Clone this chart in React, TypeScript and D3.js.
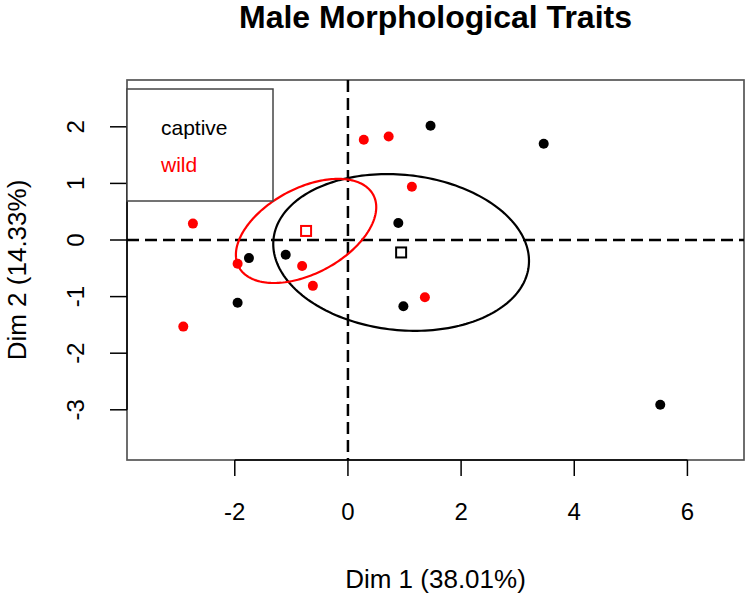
import React from "react";
import * as d3 from "d3";

// ---- data ----
const groups = ["captive", "wild"];
const groupColors = ["#000000", "#FF0000"];

const captiveDim1 = [1.46, 3.46, 0.89, -1.75, -1.10, -1.95, 0.98, 5.52];
const captiveDim2 = [2.02, 1.70, 0.30, -0.32, -0.26, -1.11, -1.17, -2.91];

const wildDim1 = [-2.74, 0.28, 0.72, 1.13, -1.95, -0.81, -0.62, -2.91, 1.36];
const wildDim2 = [0.29, 1.77, 1.83, 0.94, -0.42, -0.46, -0.81, -1.53, -1.01];

// group centroids (squares) and confidence ellipses
const centroidDim1 = [0.94, -0.74];
const centroidDim2 = [-0.22, 0.16];
const ellipseMajor = [2.268, 1.348];
const ellipseMinor = [1.372, 0.753];
const ellipseAngleDeg = [-6, 28.2];

const xTicks = [-2, 0, 2, 4, 6];
const yTicks = [-3, -2, -1, 0, 1, 2];

const title = "Male Morphological Traits";
const xLabel = "Dim 1 (38.01%)";
const yLabel = "Dim 2 (14.33%)";

const W = 750;
const H = 596;
const FONT = "'Liberation Sans', Arial, Helvetica, sans-serif";

export default function App() {
  const x = d3.scaleLinear().domain([-3.905, 7.0]).range([127, 744]);
  const y = d3.scaleLinear().domain([-3.887, 2.827]).range([460, 80]);
  const [x0, x1] = x.range();
  const [y0, y1] = y.range();

  const line = d3
    .line<[number, number]>()
    .x((d) => x(d[0]))
    .y((d) => y(d[1]))
    .curve(d3.curveLinearClosed);

  const ellipsePath = (g: number) => {
    const th = (ellipseAngleDeg[g] * Math.PI) / 180;
    const a = ellipseMajor[g];
    const b = ellipseMinor[g];
    const cx = centroidDim1[g];
    const cy = centroidDim2[g];
    const pts: [number, number][] = d3.range(0, 200).map((i) => {
      const t = (i / 200) * 2 * Math.PI;
      return [
        cx + a * Math.cos(th) * Math.cos(t) - b * Math.sin(th) * Math.sin(t),
        cy + a * Math.sin(th) * Math.cos(t) + b * Math.cos(th) * Math.sin(t),
      ];
    });
    return line(pts) || "";
  };

  const series = [
    { xs: captiveDim1, ys: captiveDim2, color: groupColors[0] },
    { xs: wildDim1, ys: wildDim2, color: groupColors[1] },
  ];

  const sq = 10;

  return (
    <svg
      width={W}
      height={H}
      style={{ position: "absolute", left: 0, top: 0, background: "#fff" }}
      fontFamily={FONT}
    >
      <rect x={0} y={0} width={W} height={H} fill="#fff" />
      {/* title */}
      <text
        x={(x0 + x1) / 2}
        y={28}
        textAnchor="middle"
        fontSize={32}
        fontWeight="bold"
        fill="#000"
      >
        {title}
      </text>

      {/* frame */}
      <rect
        x={x0}
        y={y1}
        width={x1 - x0}
        height={y0 - y1}
        fill="none"
        stroke="#555"
        strokeWidth={1.7}
      />

      {/* dashed reference lines */}
      <line
        x1={x0}
        x2={x1}
        y1={y(0)}
        y2={y(0)}
        stroke="#000"
        strokeWidth={2.5}
        strokeDasharray="12 6"
      />
      <line
        x1={x(0)}
        x2={x(0)}
        y1={y1}
        y2={y0}
        stroke="#000"
        strokeWidth={2.5}
        strokeDasharray="12 6"
      />

      {/* ellipses */}
      {groups.map((g, i) => (
        <path
          key={g}
          d={ellipsePath(i)}
          fill="none"
          stroke={groupColors[i]}
          strokeWidth={2.2}
        />
      ))}

      {/* points */}
      {series.map((s, si) =>
        s.xs.map((v, i) => (
          <circle
            key={`${si}-${i}`}
            cx={x(v)}
            cy={y(s.ys[i])}
            r={5}
            fill={s.color}
          />
        ))
      )}

      {/* centroids */}
      {groups.map((g, i) => (
        <rect
          key={g}
          x={x(centroidDim1[i]) - sq / 2}
          y={y(centroidDim2[i]) - sq / 2}
          width={sq}
          height={sq}
          fill="none"
          stroke={groupColors[i]}
          strokeWidth={2}
        />
      ))}

      {/* x axis */}
      <line
        x1={x(xTicks[0])}
        x2={x(xTicks[xTicks.length - 1])}
        y1={y0}
        y2={y0}
        stroke="#000"
        strokeWidth={1.5}
      />
      {xTicks.map((t) => (
        <g key={t}>
          <line x1={x(t)} x2={x(t)} y1={y0} y2={y0 + 16} stroke="#000" strokeWidth={1.5} />
          <text x={x(t)} y={520} textAnchor="middle" fontSize={24} fill="#000">
            {t}
          </text>
        </g>
      ))}
      <text x={(x0 + x1) / 2} y={588} textAnchor="middle" fontSize={26} fill="#000">
        {xLabel}
      </text>

      {/* y axis */}
      <line
        x1={x0}
        x2={x0}
        y1={y(yTicks[0])}
        y2={y(yTicks[yTicks.length - 1])}
        stroke="#000"
        strokeWidth={1.5}
      />
      {yTicks.map((t) => (
        <g key={t}>
          <line x1={x0} x2={x0 - 17} y1={y(t)} y2={y(t)} stroke="#000" strokeWidth={1.5} />
          <text
            transform={`translate(76,${y(t)}) rotate(-90)`}
            dy="0.35em"
            textAnchor="middle"
            fontSize={24}
            fill="#000"
          >
            {t}
          </text>
        </g>
      ))}
      <text
        transform={`translate(17,${(y0 + y1) / 2}) rotate(-90)`}
        dy="0.35em"
        textAnchor="middle"
        fontSize={26}
        fill="#000"
      >
        {yLabel}
      </text>

      {/* legend */}
      <rect x={127} y={89} width={146} height={112} fill="#fff" stroke="#444" strokeWidth={1.5} />
      {groups.map((g, i) => (
        <text key={g} x={161} y={135 + i * 37} fontSize={21} fill={groupColors[i]}>
          {g}
        </text>
      ))}
    </svg>
  );
}
